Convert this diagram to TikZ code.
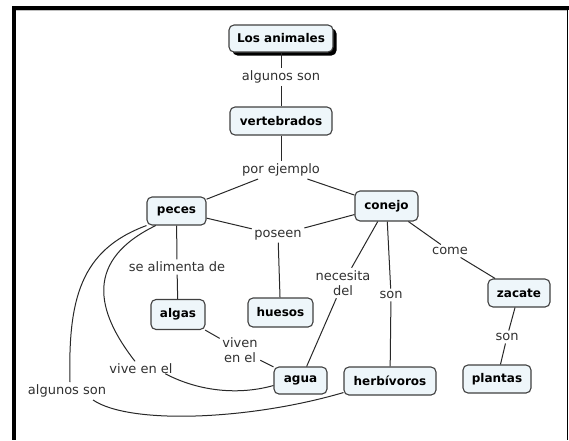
\documentclass[tikz,border=0pt]{standalone}
\usepackage{fontspec}
\setmainfont{DejaVu Sans}
\usetikzlibrary{shadows}
\definecolor{cfill}{RGB}{238,246,250}
\definecolor{cborder}{RGB}{64,64,64}
\definecolor{ltext}{RGB}{48,48,48}
\definecolor{lcol}{RGB}{40,40,40}
\begin{document}
\begin{tikzpicture}[x=1pt,y=-1pt,
  concept/.style={draw=cborder, fill=cfill, rounded corners=5pt, line width=1.1pt,
    font=\bfseries\fontsize{12}{14}\selectfont, text=black, inner sep=0pt},
  lab/.style={font=\fontsize{13}{15}\selectfont, text=ltext, inner sep=2.5pt, align=center},
  link/.style={draw=lcol, line width=1pt}]
\useasboundingbox (0,0) rectangle (569,440);
% frame
\fill[black] (12,6) rectangle (569,10);
\fill[black] (12,6) rectangle (16,440);
\draw[gray!50, line width=1pt] (16,10.8) -- (567,10.8);
\draw[black, line width=1.4pt] (567.5,6) -- (567.5,440);
% concepts
\node[concept, minimum width=104pt, minimum height=27pt,
  drop shadow={shadow xshift=3.5pt, shadow yshift=-3.5pt, fill=black, opacity=1}]
  (animales) at (281,38.5) {Los animales};
\node[concept, minimum width=102pt, minimum height=28pt] (vert) at (281,121) {vertebrados};
\node[concept, minimum width=59pt, minimum height=28pt] (peces) at (176.5,211) {peces};
\node[concept, minimum width=63pt, minimum height=30pt] (conejo) at (386.5,206) {conejo};
\node[concept, minimum width=54pt, minimum height=30pt] (algas) at (178,314.5) {algas};
\node[concept, minimum width=65pt, minimum height=29pt] (huesos) at (280.5,312.5) {huesos};
\node[concept, minimum width=62pt, minimum height=28pt] (zacate) at (519,293) {zacate};
\node[concept, minimum width=68pt, minimum height=28pt] (plantas) at (497,379) {plantas};
\node[concept, minimum width=92pt, minimum height=28pt] (herb) at (390,381) {herbívoros};
\node[concept, minimum width=53pt, minimum height=27pt] (agua) at (300.5,380.5) {agua};
% linking phrases
\node[lab] (l1) at (281,77) {algunos son};
\node[lab] (l2) at (281,170) {por ejemplo};
\node[lab] (l3) at (278,235) {poseen};
\node[lab] (l4) at (177,267) {se alimenta de};
\node[lab] (l5) at (343,283) {necesita\\del};
\node[lab] (l6) at (391,295) {son};
\node[lab] (l7) at (450,251) {come};
\node[lab] (l8) at (507,337) {son};
\node[lab] (l9) at (240,350) {viven\\en el};
\node[lab] (l10) at (141,369) {vive en el};
\node[lab] (l11) at (67,391) {algunos son};
% connectors
\draw[link] (animales) -- (l1);
\draw[link] (l1) -- (vert);
\draw[link] (vert) -- (l2);
\draw[link] (l2) -- (peces);
\draw[link] (l2) -- (conejo);
\draw[link] (peces) -- (l3);
\draw[link] (conejo) -- (l3);
\draw[link] (l3) -- (huesos);
\draw[link] (peces) -- (l4);
\draw[link] (l4) -- (algas);
\draw[link] (conejo) -- (l5);
\draw[link] (l5) -- (agua);
\draw[link] (conejo) -- (l6);
\draw[link] (l6) -- (herb);
\draw[link] (conejo) -- (l7);
\draw[link] (l7) -- (zacate);
\draw[link] (zacate) -- (l8);
\draw[link] (l8) -- (plantas);
\draw[link] (algas) -- (l9);
\draw[link] (l9) -- (agua);
\draw[link] (peces.215) .. controls (85,260) and (95,310) .. ([xshift=-6pt]l10.north);
\draw[link] ([xshift=-10pt,yshift=3pt]l10.south east) .. controls (200,392) and (240,395) .. ([yshift=-5pt]agua.west);
\draw[link] (peces.south west) .. controls (80,250) and (68,300) .. ([xshift=3pt]l11.north);
\draw[link] ([xshift=26pt]l11.south) .. controls (130,425) and (250,420) .. ([yshift=3pt]herb.south west);
\end{tikzpicture}
\end{document}
